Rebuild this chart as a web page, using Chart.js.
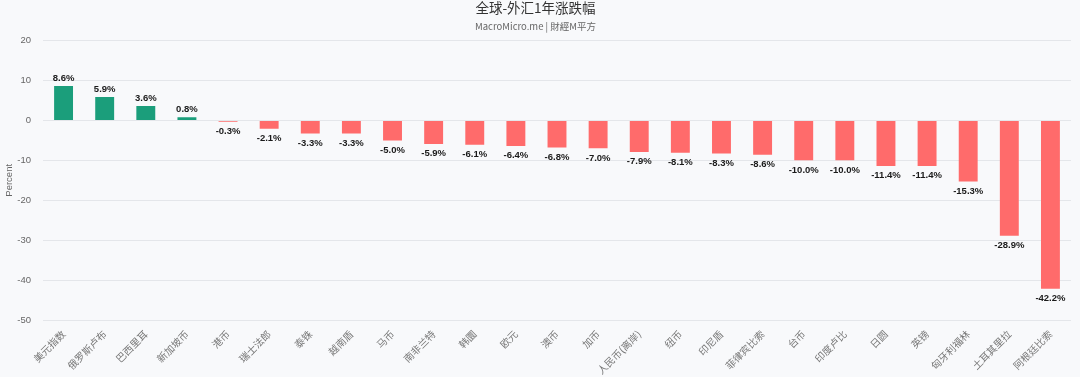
<!DOCTYPE html>
<html>
<head>
<meta charset="utf-8">
<script src="https://cdn.jsdelivr.net/npm/chart.js@4"></script>
<style>
  html, body { margin: 0; padding: 0; background: #f8f9fb; }
  #wrap { width: 1080px; height: 377px; }
</style>
</head>
<body>
<div id="wrap"><canvas id="fxChart" width="1080" height="377"></canvas></div>
<script>
// Currencies and 1-year change (%)
const currencies = ['美元指数', '俄罗斯卢布', '巴西里耳', '新加坡币', '港币', '瑞士法郎', '泰铢', '越南盾', '马币', '南非兰特',
  '韩圜', '欧元', '澳币', '加币', '人民币(离岸)', '纽币', '印尼盾', '菲律宾比索', '台币', '印度卢比',
  '日圆', '英镑', '匈牙利福林', '土耳其里拉', '阿根廷比索'];
const changes = [8.6, 5.9, 3.6, 0.8, -0.3, -2.1, -3.3, -3.3, -5.0, -5.9,
  -6.1, -6.4, -6.8, -7.0, -7.9, -8.1, -8.3, -8.6, -10.0, -10.0,
  -11.4, -11.4, -15.3, -28.9, -42.2];
const yTicks = [20, 10, 0, -10, -20, -30, -40, -50];

const UP = '#1b9e7b';
const DOWN = '#ff6b6b';
const CJK = '"Noto Sans CJK SC", "Noto Sans", sans-serif';

// simple value labels above / below each bar
const barLabels = {
  id: 'barLabels',
  afterDatasetsDraw(chart) {
    const ctx = chart.ctx;
    const meta = chart.getDatasetMeta(0);
    ctx.save();
    ctx.font = 'bold 9.5px "Liberation Sans", Arial, sans-serif';
    ctx.fillStyle = '#1a1a1a';
    ctx.textAlign = 'center';
    meta.data.forEach((bar, i) => {
      const v = changes[i];
      const txt = v.toFixed(1) + '%';
      if (v >= 0) {
        ctx.textBaseline = 'bottom';
        ctx.fillText(txt, bar.x, bar.y - 3);
      } else {
        ctx.textBaseline = 'top';
        ctx.fillText(txt, bar.x, bar.y + 5);
      }
    });
    ctx.restore();
  }
};

const ctx = document.getElementById('fxChart').getContext('2d');
new Chart(ctx, {
  type: 'bar',
  data: {
    labels: currencies,
    datasets: [{
      label: '1年涨跌幅',
      data: changes,
      backgroundColor: changes.map(v => v >= 0 ? UP : DOWN),
      borderWidth: 0,
      barPercentage: 0.46,
      categoryPercentage: 1
    }]
  },
  options: {
    responsive: false,
    animation: false,
    layout: { padding: { left: 0, right: 9, top: 0, bottom: 0 } },
    plugins: {
      legend: { display: false },
      tooltip: { enabled: false },
      title: {
        display: true,
        text: '全球-外汇1年涨跌幅',
        color: '#333',
        font: { family: CJK, size: 13.5, weight: 'normal' },
        padding: { top: 0, bottom: 2 }
      },
      subtitle: {
        display: true,
        text: 'MacroMicro.me | 財經M平方',
        color: '#666',
        font: { family: CJK, size: 9.5 },
        padding: { top: 2, bottom: 9 }
      }
    },
    scales: {
      x: {
        grid: { display: false },
        border: { display: false },
        ticks: {
          color: '#777',
          font: { family: CJK, size: 10 },
          maxRotation: 45,
          minRotation: 45,
          autoSkip: false,
          padding: 0
        },
        afterFit(scale) { scale.height = 57; }
      },
      y: {
        min: -50,
        max: 20,
        afterBuildTicks(scale) { scale.ticks = yTicks.map(v => ({ value: v })); },
        grid: { color: '#e4e6ea', drawTicks: false },
        border: { display: false },
        ticks: {
          color: '#666',
          font: { family: '"Liberation Sans", Arial, sans-serif', size: 9.5 },
          padding: 12
        },
        title: {
          display: true,
          text: 'Percent',
          color: '#666',
          font: { family: '"Liberation Sans", Arial, sans-serif', size: 9.5 },
          padding: { top: 4, bottom: 0 }
        },
        afterFit(scale) { scale.width = 43; }
      }
    }
  },
  plugins: [barLabels]
});
</script>
</body>
</html>
